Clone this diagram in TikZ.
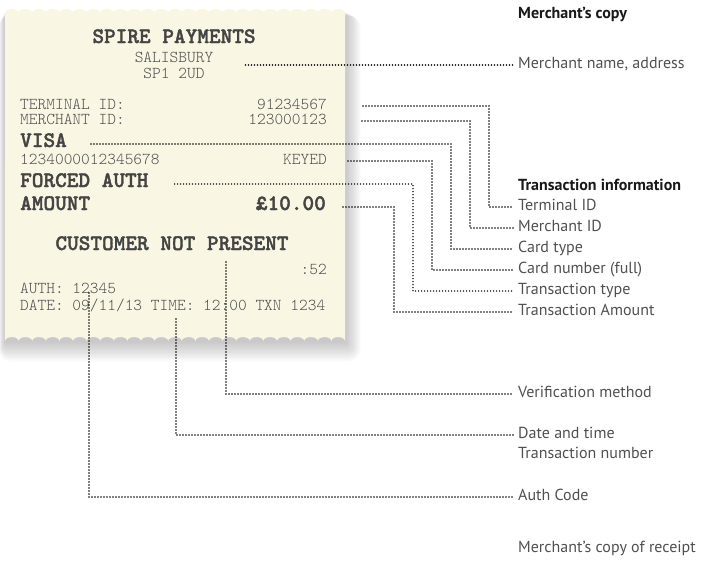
\documentclass[tikz,border=0pt]{standalone}
\usepackage{fontspec}
\setmainfont{PT Sans}
\newfontfamily\tillfont{lmmonolt10-regular.otf}[BoldFont=lmmonolt10-bold.otf,
    BoldFeatures={FakeBold=1.6}]
\usepackage{tikz}
\usetikzlibrary{positioning}
\definecolor{paper}{HTML}{FAF6E4}
\definecolor{tillgrey}{HTML}{505050}
\definecolor{tilldark}{HTML}{444444}
\definecolor{notegrey}{HTML}{505050}
\tikzset{
    slip/.style={font=\tillfont\fontsize{16.6}{16}\selectfont, text=tillgrey,
        inner sep=0pt, text height=0.6em, text depth=0pt},
    slip bold/.style={slip, font=\tillfont\bfseries\fontsize{22.2}{21}\selectfont,
        text=tilldark},
    callout/.style={anchor=west, inner xsep=5pt, inner ysep=0pt,
        font=\fontsize{16}{19}\selectfont, text=notegrey,
        text height=0.72em, text depth=0pt},
    callout head/.style={callout, font=\bfseries\fontsize{16}{19}\selectfont,
        text=black!90},
    leader/.style={line width=1.7pt, line cap=round, dash pattern=on 0pt off 3pt},
}

\begin{document}
\begin{tikzpicture}[x=1pt, y=-1pt]
    \useasboundingbox (0,0) rectangle (709,563);

    % soft shadow under the slip
    \foreach \s in {1,...,12}
        \fill[black, opacity=0.02, rounded corners=\s pt]
            (5-0.5*\s,12+0.3*\s) rectangle (345+1.3*\s,341+1.7*\s);

    % the slip, torn top and bottom
    \fill[paper] (5,13)
        \foreach \k in {1,...,25}{ arc[start angle=180, end angle=0, x radius=6.8pt, y radius=4pt] }
        -- (345,341)
        \foreach \k in {1,...,25}{ arc[start angle=0, end angle=180, x radius=6.8pt, y radius=4pt] }
        -- cycle;

    \node[slip bold] (shop) at (174,40) {SPIRE PAYMENTS};
    \node[slip, align=center, text height=, text depth=] (addr) at (174,65) {SALISBURY\\SP1 2UD};

    \node[slip, anchor=west] (tidkey) at (20,106) {TERMINAL ID:};
    \node[slip, anchor=east] (tidval) at (327,106) {91234567};
    \node[slip, anchor=west] (midkey) at (20,121) {MERCHANT ID:};
    \node[slip, anchor=east] (midval) at (327,121) {123000123};

    \node[slip bold, anchor=west] (card) at (20,144) {VISA};
    \node[slip, anchor=west] (pan) at (20,161) {1234000012345678};
    \node[slip, anchor=east] (entry) at (327,161) {KEYED};

    \node[slip bold, anchor=west] (txtype) at (20,184) {FORCED AUTH};
    \node[slip bold, anchor=west] (amtkey) at (20,207) {AMOUNT};
    \node[slip bold, anchor=east] (amt) at (326,207) {£10.00};

    \node[slip bold] (cvm) at (172,247) {CUSTOMER NOT PRESENT};
    \node[slip, anchor=east] (secs) at (327,271) {:52};
    \node[slip, anchor=west] (authc) at (20,290) {AUTH: 12345};
    \node[slip, anchor=west] (stamp) at (20,307) {DATE: 09/11/13 TIME: 12:00 TXN 1234};

    \coordinate (cvmtop) at (226,262);
    \coordinate (timetop) at (176,319);
    \coordinate (authtop) at (89,293);

    % callouts
    \node[callout head] (copyhead) at (513,15) {Merchant’s copy};
    \node[callout] (laddr) at (513,65) {Merchant name, address};
    \node[callout head] (txhead) at (513,187) {Transaction information};
    \node[callout] (ltid) at (513,207) {Terminal ID};
    \node[callout] (lmid) at (513,228) {Merchant ID};
    \node[callout] (lcard) at (513,249) {Card type};
    \node[callout] (lpan) at (513,270) {Card number (full)};
    \node[callout] (ltype) at (513,291) {Transaction type};
    \node[callout] (lamt) at (513,312) {Transaction Amount};
    \node[callout] (lcvm) at (513,394) {Verification method};
    \node[callout] (ldate) at (513,435) {Date and time};
    \node[callout] (ltxn) at (513,455) {Transaction number};
    \node[callout] (lauth) at (513,497) {Auth Code};
    \node[callout] (lcopy) at (513,549) {Merchant’s copy of receipt};

    \draw[leader] ([xshift=32pt]addr.east) -- (laddr.west);
    \draw[leader] ([xshift=36pt]tidval.east) -| ([xshift=-24pt]ltid.west) -- (ltid.west);
    \draw[leader] ([xshift=35pt]midval.east) -| ([xshift=-43pt]lmid.west) -- (lmid.west);
    \draw[leader] ([xshift=24pt]card.east) -| ([xshift=-62pt]lcard.west) -- (lcard.west);
    \draw[leader] ([xshift=21pt]entry.east) -| ([xshift=-81pt]lpan.west) -- (lpan.west);
    \draw[leader] ([xshift=26pt]txtype.east) -| ([xshift=-100pt]ltype.west) -- (ltype.west);
    \draw[leader] ([xshift=17pt]amt.east) -| ([xshift=-119pt]lamt.west) -- (lamt.west);

    \draw[leader] (cvmtop) |- (lcvm.west);
    \draw[leader] (timetop) |- (ldate.west);
    \draw[leader] (authtop) |- (lauth.west);
\end{tikzpicture}
\end{document}
